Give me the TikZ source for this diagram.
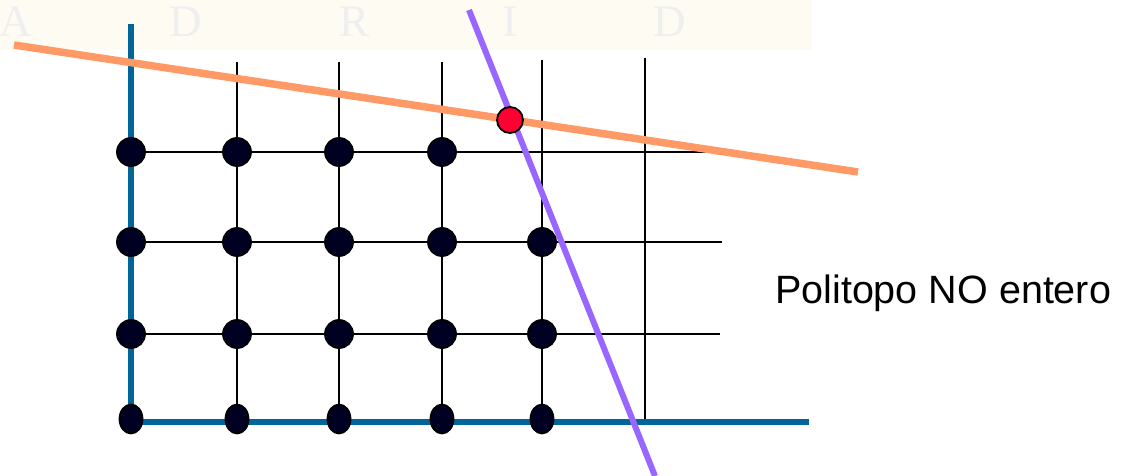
\documentclass[tikz,border=0pt]{standalone}
\usepackage{fontspec}
\setmainfont{Liberation Sans}
\newfontfamily\wmfont{Liberation Serif}
\definecolor{cream}{HTML}{FEFBF2}
\definecolor{wmgray}{HTML}{EFEFEF}
\definecolor{axisblue}{HTML}{006699}
\definecolor{orangeln}{HTML}{FF9966}
\definecolor{purpleln}{HTML}{9966FF}
\definecolor{dotnavy}{HTML}{000022}
\definecolor{reddot}{HTML}{FF0033}
\tikzset{
  pt/.style={circle,draw=black,line width=1.8pt,fill=dotnavy,minimum size=28pt,inner sep=0pt},
  ptlow/.style={ellipse,draw=black,line width=1.8pt,fill=dotnavy,minimum width=23pt,minimum height=29pt,inner sep=0pt},
  redpt/.style={circle,draw=black,line width=1.8pt,fill=reddot,minimum size=26pt,inner sep=0pt},
  gridln/.style={black,line width=2.3pt},
  axisln/.style={axisblue,line width=5.5pt},
  wm/.style={text=wmgray,font=\wmfont\fontsize{45}{45}\selectfont,anchor=base,inner sep=0pt},
}
\usetikzlibrary{shapes.geometric}
\begin{document}
\begin{tikzpicture}[x=1pt,y=-1pt]
\useasboundingbox (0,0) rectangle (1128,476);
\fill[cream] (0,0) rectangle (812,50);
\node[wm] (wA) at (16,37) {A};
\node[wm] (wD1) at (186,37) {D};
\node[wm] (wR) at (355,37) {R};
\node[wm] (wI) at (510,37) {I};
\node[wm] (wD2) at (670,37) {D};
% grid coordinates
\coordinate (t1) at (237,62);
\coordinate (t2) at (339,62);
\coordinate (t3) at (442,62);
\coordinate (t4) at (542,60);
\coordinate (t5) at (645,58);
\coordinate (b1) at (237,420);
\coordinate (b2) at (339,420);
\coordinate (b3) at (442,420);
\coordinate (b4) at (542,420);
\coordinate (b5) at (645,422);
\coordinate (l1) at (131,152);
\coordinate (l2) at (131,242);
\coordinate (l3) at (131,334);
\coordinate (r1) at (712,152);
\coordinate (r2) at (722,242);
\coordinate (r3) at (720,334);
\foreach \i in {1,...,5} \draw[gridln] (t\i) -- (b\i);
\foreach \i in {1,2,3} \draw[gridln] (l\i) -- (r\i);
% axes
\coordinate (ytop) at (131,24);
\coordinate (origin) at (131,422);
\coordinate (xend) at (809,422);
\draw[axisln] (ytop) -- (origin) -- (xend);
% cutting lines
\coordinate (oa) at (14,45);
\coordinate (ob) at (858,172);
\draw[orangeln,line width=7.5pt] (oa) -- (ob);
\coordinate (pa) at (469,10);
\coordinate (pb) at (655,476);
\draw[purpleln,line width=6pt] (pa) -- (pb);
% integer points
\foreach \x [count=\c] in {131,237,339,442} \node[pt] (p1\c) at (\x,152) {};
\foreach \x [count=\c] in {131,237,339,442,542} {
  \node[pt] (p2\c) at (\x,242) {};
  \node[pt] (p3\c) at (\x,334) {};
  \node[ptlow] (p4\c) at (\x,419) {};
}
\node[redpt] (v) at (510,120) {};
\node[font=\fontsize{39.5}{42}\selectfont,anchor=base west,inner sep=0pt] (lbl) at (775,303) {Politopo NO entero};
\end{tikzpicture}
\end{document}
